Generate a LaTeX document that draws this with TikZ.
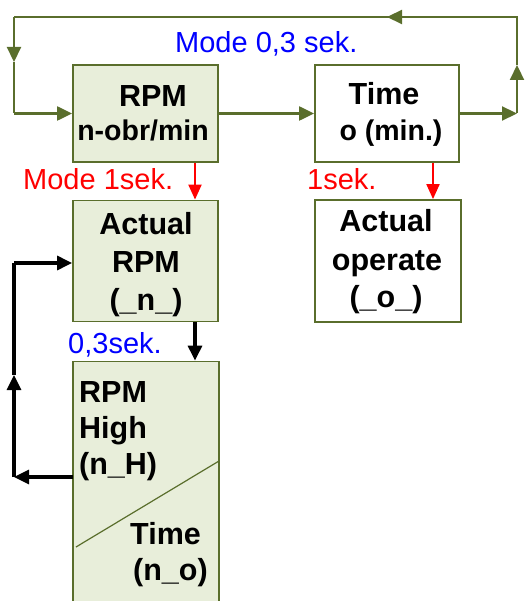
\documentclass[tikz,border=0pt]{standalone}
\usepackage{fontspec}
\setmainfont{Liberation Sans}
\usetikzlibrary{arrows.meta}
\definecolor{olive}{HTML}{5A6E2C}
\definecolor{boxfill}{HTML}{E8EEDA}
\tikzset{
  box/.style={draw=olive, line width=1.8pt, minimum width=#1, inner sep=0pt},
  gbox/.style={box=#1, fill=boxfill},
  wbox/.style={box=#1, fill=white},
  btxt/.style={font=\fontsize{30.5}{36}\selectfont\bfseries, anchor=base, inner sep=0pt},
  stxt/.style={btxt, font=\fontsize{28.5}{34}\selectfont\bfseries},
  ltxt/.style={font=\fontsize{29}{34}\selectfont, anchor=base west, inner sep=0pt},
  gline/.style={draw=olive, line width=2.2pt},
  garrow/.style={gline, -{Triangle[length=15pt,width=14pt]}},
  rarrow/.style={draw=red, line width=2pt, -{Triangle[length=15pt,width=13pt]}},
  karrow/.style={draw=black, line width=3.2pt, -{Triangle[length=15pt,width=14pt]}},
  kline/.style={draw=black, line width=3.2pt},
}
\begin{document}
\begin{tikzpicture}[x=1pt,y=-1pt]
\useasboundingbox (0,0) rectangle (525,601);

% boxes
\node[gbox=145pt, minimum height=97pt] (rpm) at (145.5,113.5) {};
\node[wbox=144pt, minimum height=97pt] (time) at (387,113.5) {};
\node[gbox=145pt, minimum height=121pt] (arpm) at (145.5,261) {};
\node[wbox=146pt, minimum height=122pt] (aop) at (388,261) {};
\node[gbox=146pt, minimum height=243pt] (high) at (146,483) {};

% split line inside the lower box
\coordinate (d1) at (76,547);
\coordinate (d2) at (219,461);
\draw[olive, line width=1.2pt] (d1) -- (d2);

% box texts
\node[btxt] (t1) at (153,107) {RPM};
\node[stxt] (t2) at (143,141) {n-obr/min};
\node[btxt] (t3) at (384,105) {Time};
\node[stxt] (t4) at (391,141) {o (min.)};
\node[btxt] (t5) at (146,234) {Actual};
\node[btxt] (t6) at (146,272) {RPM};
\node[btxt] (t7) at (146,310) {(\_n\_)};
\node[btxt] (t8) at (386,232) {Actual};
\node[btxt] (t9) at (387,270) {operate};
\node[btxt] (t10) at (386,307) {(\_o\_)};
\node[btxt, anchor=base west] (t11) at (79,402) {RPM};
\node[btxt, anchor=base west] (t12) at (79,438) {High};
\node[btxt, anchor=base west] (t13) at (79,474) {(n\_H)};
\node[btxt, anchor=base west] (t14) at (130,544) {Time};
\node[btxt, anchor=base west] (t15) at (133,580) {(n\_o)};

% labels
\node[ltxt, text=blue] (l1) at (175,53) {Mode 0,3 sek.};
\node[ltxt, text=red] (l2) at (23,190) {Mode 1sek.};
\node[ltxt, text=red] (l3) at (307,190) {1sek.};
\node[ltxt, text=blue] (l4) at (68,353) {0,3sek.};

% top loop
\coordinate (r1) at (517,113.5);
\coordinate (r2) at (517,65);
\coordinate (r3) at (517,17);
\coordinate (r4) at (387,17);
\coordinate (r5) at (14,17);
\coordinate (r6) at (14,62);
\coordinate (r7) at (14,113.5);
\draw[garrow] (rpm.east) -- (time.west);
\draw[garrow] (time.east) -- (r1);
\draw[garrow] (r1) -- (r2);
\draw[gline] (r2) -- (r3) -- (r4);
\draw[garrow] (r3) -- (r4);
\draw[gline] (r4) -- (r5);
\draw[garrow] (r5) -- (r6);
\draw[gline] (r6) -- (r7);
\draw[garrow] (r7) -- (rpm.west);

% one second updates
\draw[rarrow] (rpm.south -| 195,0) -- (arpm.north -| 195,0);
\draw[rarrow] (time.south -| 433,0) -- (aop.north -| 433,0);

% lower loop
\draw[karrow] (arpm.south -| 195,0) -- (high.north -| 195,0);
\coordinate (k1) at (73,477);
\coordinate (k2) at (14,477);
\coordinate (k3) at (14,375);
\coordinate (k4) at (14,263);
\coordinate (k5) at (73,263);
\draw[karrow] (k1) -- (k2);
\draw[karrow] (k2) -- (k3);
\draw[kline] (k3) -- (k4);
\draw[karrow] (k4) -- (arpm.west |- k5);
\end{tikzpicture}
\end{document}
